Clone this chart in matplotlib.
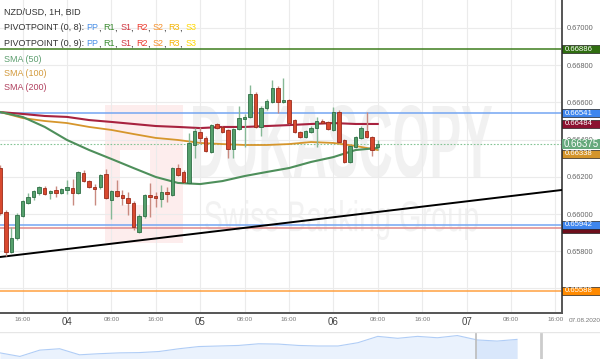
import numpy as np
import pandas as pd
import matplotlib
matplotlib.use("Agg")
import matplotlib.pyplot as plt
import matplotlib.dates as mdates
from matplotlib.patches import Rectangle, PathPatch
from matplotlib.textpath import TextPath
from matplotlib.font_manager import FontProperties
from matplotlib.transforms import Affine2D, blended_transform_factory

# --- data (NZD/USD, 1H, BID) ---
first_bar = "2020-08-03 12:00"
opens = [0.66247, 0.66011, 0.65796, 0.65871, 0.65989, 0.66059, 0.66091, 0.66113, 0.66140, 0.66113,
         0.66129, 0.66113, 0.66129, 0.66140, 0.66113, 0.66220, 0.66177, 0.66145, 0.66145, 0.66215,
         0.66075, 0.66124, 0.66102, 0.66086, 0.66059, 0.65903, 0.65989, 0.66102, 0.66097, 0.66081,
         0.66118, 0.66102, 0.66247, 0.66226, 0.66167, 0.66371, 0.66441, 0.66409, 0.66333, 0.66484,
         0.66468, 0.66452, 0.66350, 0.66457, 0.66511, 0.66522, 0.66645, 0.66468, 0.66570, 0.66602,
         0.66677, 0.66602, 0.66613, 0.66505, 0.66441, 0.66414, 0.66441, 0.66462, 0.66500, 0.66495,
         0.66452, 0.66548, 0.66398, 0.66280, 0.66360, 0.66409, 0.66446, 0.66414, 0.66360]
highs = [0.66263, 0.66022, 0.65930, 0.66005, 0.66075, 0.66113, 0.66129, 0.66151, 0.66151, 0.66129,
         0.66151, 0.66140, 0.66183, 0.66188, 0.66231, 0.66237, 0.66183, 0.66161, 0.66215, 0.66242,
         0.66129, 0.66183, 0.66129, 0.66118, 0.66070, 0.66000, 0.66108, 0.66167, 0.66118, 0.66156,
         0.66145, 0.66253, 0.66269, 0.66237, 0.66436, 0.66462, 0.66468, 0.66419, 0.66484, 0.66489,
         0.66473, 0.66457, 0.66462, 0.66581, 0.66538, 0.66694, 0.66656, 0.66581, 0.66618, 0.66720,
         0.66688, 0.66731, 0.66618, 0.66511, 0.66446, 0.66452, 0.66473, 0.66522, 0.66511, 0.66500,
         0.66575, 0.66559, 0.66403, 0.66371, 0.66419, 0.66473, 0.66548, 0.66419, 0.66398]
lows = [0.65995, 0.65774, 0.65790, 0.65860, 0.65984, 0.66054, 0.66075, 0.66102, 0.66102, 0.66081,
        0.66091, 0.66108, 0.66108, 0.66048, 0.66108, 0.66172, 0.66140, 0.66048, 0.66134, 0.66081,
        0.65973, 0.66091, 0.66048, 0.65995, 0.65914, 0.65898, 0.65979, 0.65984, 0.66038, 0.66038,
        0.66064, 0.66097, 0.66204, 0.66167, 0.66161, 0.66301, 0.66382, 0.66333, 0.66328, 0.66457,
        0.66436, 0.66301, 0.66301, 0.66452, 0.66360, 0.66516, 0.66462, 0.66419, 0.66559, 0.66597,
        0.66543, 0.66597, 0.66484, 0.66436, 0.66409, 0.66409, 0.66436, 0.66360, 0.66484, 0.66452,
        0.66446, 0.66382, 0.66274, 0.66274, 0.66355, 0.66403, 0.66409, 0.66312, 0.66344]
closes = [0.66005, 0.65796, 0.65871, 0.65995, 0.66070, 0.66091, 0.66124, 0.66145, 0.66108, 0.66124,
          0.66113, 0.66134, 0.66145, 0.66113, 0.66226, 0.66177, 0.66145, 0.66134, 0.66210, 0.66086,
          0.66124, 0.66097, 0.66086, 0.66059, 0.65930, 0.65989, 0.66102, 0.66091, 0.66086, 0.66118,
          0.66108, 0.66247, 0.66210, 0.66172, 0.66382, 0.66446, 0.66409, 0.66339, 0.66478, 0.66462,
          0.66441, 0.66350, 0.66457, 0.66516, 0.66522, 0.66645, 0.66468, 0.66570, 0.66608, 0.66677,
          0.66602, 0.66613, 0.66489, 0.66441, 0.66414, 0.66446, 0.66462, 0.66500, 0.66489, 0.66457,
          0.66548, 0.66387, 0.66280, 0.66366, 0.66414, 0.66462, 0.66414, 0.66344, 0.66375]

# moving averages, sampled every 4 hours from the first bar
sma50 = [0.66548, 0.66522, 0.66468, 0.66398, 0.66344, 0.66296, 0.66247, 0.66199, 0.66167,
         0.66161, 0.66177, 0.66204, 0.66226, 0.66247, 0.66280, 0.66306, 0.66344, 0.66355]
sma100 = [0.66548, 0.66516, 0.66500, 0.66489, 0.66468, 0.66452, 0.66430, 0.66409, 0.66398,
          0.66382, 0.66376, 0.66371, 0.66371, 0.66376, 0.66387, 0.66382, 0.66366, 0.66344]
sma200 = [0.66548, 0.66538, 0.66527, 0.66522, 0.66505, 0.66495, 0.66484, 0.66473, 0.66468,
          0.66462, 0.66468, 0.66468, 0.66473, 0.66478, 0.66484, 0.66489, 0.66484, 0.66484]

# pivot levels
level_prices = [0.66886, 0.66541, 0.65942, 0.65925, 0.65588]
level_colors = ["#3d7d1c", "#74a6f2", "#74a6f2", "#e08a8a", "#ffa040"]

# trend line anchors
trend_times = ["2020-08-03 12:00", "2020-08-07 16:00"]
trend_prices = [0.65769, 0.66125]

last_price = 0.66375

# price tags on the right axis: (text, price, colour); empty text = label hidden behind another
tags = [("0.66886", 0.66886, "#2f6d10"),
        ("0.66484", 0.66484, "#8c1230"),
        ("0.66541", 0.66541, "#3f86ee"),
        ("0.66338", 0.66325, "#d4952c"),
        ("", 0.65922, "#6e0f1c"),
        ("0.65942", 0.65942, "#3f86ee"),
        ("0.65588", 0.65588, "#ff8a00")]

price_ticks = [0.656, 0.658, 0.660, 0.662, 0.664, 0.666, 0.668, 0.670]
price_labels = ["", "0.65800", "0.66000", "0.66200", "0.66400", "0.66600", "0.66800", "0.67000"]
time_ticks = pd.date_range("2020-08-03 16:00", "2020-08-07 16:00", freq="8h")
time_labels = ["16:00", "04", "08:00", "16:00", "05", "08:00", "16:00", "06",
               "08:00", "16:00", "07", "08:00", "16:00"]

# navigator (long history, relative level)
nav_values = [25, 12, 35, 40, 18, 22, 25, 26, 30, 40, 48, 50, 52, 58, 57, 52, 50, 50,
              62, 85, 78, 85, 80, 88, 72, 68, 74]

# --- figure ---
plt.rcParams["font.family"] = ["Liberation Sans", "DejaVu Sans"]
W, H = 600, 359
fig = plt.figure(figsize=(W / 100, H / 100), dpi=100, facecolor="white")

PLOT_R, PLOT_B = 562, 313
ax = fig.add_axes([0, (H - PLOT_B) / H, PLOT_R / W, PLOT_B / H])
ax.patch.set_alpha(0)

px = 0.00005376
y_top = 0.671505
y_bot = y_top - PLOT_B * px
ax.set_ylim(y_bot, y_top)
ax.set_xlim(mdates.date2num(pd.Timestamp("2020-08-03 11:56")),
            mdates.date2num(pd.Timestamp("2020-08-07 17:12")))


# watermark behind everything
def fit_text(s, box, color, weight="normal"):
    tp = TextPath((0, 0), s, size=100, prop=FontProperties(family="Liberation Sans", weight=weight))
    ext = tp.get_extents()
    bx0, by0, bx1, by1 = box
    tr = (Affine2D().translate(-ext.x0, -ext.y0)
          .scale((bx1 - bx0) / ext.width, (by1 - by0) / ext.height)
          .translate(bx0, H - by1)
          .scale(1 / W, 1 / H) + fig.transFigure)
    fig.add_artist(PathPatch(tp, transform=tr, fc=color, ec="none", zorder=-2))


fig.add_artist(Rectangle((105 / W, 1 - 243 / H), 78 / W, 138 / H, transform=fig.transFigure,
                         fc="#fdeded", ec="none", zorder=-3))
fig.add_artist(Rectangle((120 / W, 1 - 205 / H), 30 / W, 55 / H, transform=fig.transFigure,
                         fc="white", ec="none", zorder=-3))
fit_text("DUKASCOPY", (193, 105, 492, 178), "#f1f1f1", weight="bold")
fit_text("Swiss Banking Group", (205, 200, 478, 240), "#f2f2f2")

# grid
ax.set_yticks(price_ticks)
ax.set_yticklabels(price_labels)
ax.set_xticks(mdates.date2num(time_ticks))
ax.grid(True, color="#ebebeb", lw=0.8, zorder=0)
ax.set_axisbelow(True)

for side in ["top", "left"]:
    ax.spines[side].set_visible(False)
for side in ["right", "bottom"]:
    ax.spines[side].set_color("#555555")
    ax.spines[side].set_linewidth(1.4)

ax.yaxis.tick_right()
ax.tick_params(axis="y", length=0, pad=3.5, labelsize=5.3, labelcolor="#666666")
ax.set_xticklabels(time_labels)
ax.tick_params(axis="x", length=0, pad=3, labelsize=4.6, labelcolor="#777777")
for lab in ax.get_xticklabels():
    if len(lab.get_text()) == 2:
        lab.set_fontsize(7)
        lab.set_color("#444444")

# pivot levels, trend line, current price
for p, c in zip(level_prices, level_colors):
    ax.axhline(p, color=c, lw=1.1, zorder=2)
ax.axline((mdates.date2num(pd.Timestamp(trend_times[0])), trend_prices[0]),
          (mdates.date2num(pd.Timestamp(trend_times[1])), trend_prices[1]),
          color="black", lw=1.4, zorder=3)
ax.axhline(last_price, color="#86c596", lw=0.8, ls=(0, (1.5, 1.5)), zorder=2)

# moving averages
sma_t = mdates.date2num(pd.date_range(first_bar, periods=len(sma50), freq="4h"))
ax.plot(sma_t, sma200, color="#a8223f", lw=1.5, zorder=3)
ax.plot(sma_t, sma100, color="#d6962c", lw=1.3, zorder=3)
ax.plot(sma_t, sma50, color="#4e8f5b", lw=1.5, zorder=3)

# candles
t = mdates.date2num(pd.date_range(first_bar, periods=len(opens), freq="h"))
o, h, l, c = map(np.array, (opens, highs, lows, closes))
up = c >= o
w = 0.62 / 24
for i in range(len(t)):
    lo = min(l[i], o[i], c[i])
    hi = max(h[i], o[i], c[i])
    ax.vlines(t[i], lo, hi, color="#86b896" if up[i] else "#c98a80", lw=1.0, zorder=4)
    bottom = min(o[i], c[i])
    height = max(abs(c[i] - o[i]), 1.2 * px)
    ax.bar(t[i], height, w, bottom, color="#55a06c" if up[i] else "#d8492f",
           edgecolor="#2f6e45" if up[i] else "#9b2c1c", lw=0.6, zorder=5)

# price tags
tr_tag = blended_transform_factory(ax.transAxes, ax.transData)
tag_w = (W - PLOT_R) / PLOT_R
for txt, p, col in tags:
    hgt = 8 * px
    ax.add_patch(Rectangle((1.0, p - hgt / 2), tag_w, hgt, transform=tr_tag, clip_on=False,
                           fc=col, ec="#222222", lw=0.5, zorder=6))
    if txt:
        ax.text(1.0 + 3 / PLOT_R, p, txt, transform=tr_tag, ha="left", va="center", fontsize=5.6,
                color="white", zorder=7, clip_on=False)
hgt = 10 * px
ax.add_patch(Rectangle((1.0, last_price - hgt / 2), tag_w, hgt, transform=tr_tag, clip_on=False,
                       fc="#66a97c", ec="none", zorder=8))
ax.text(1.0 + 2 / PLOT_R, last_price, f"{last_price:.5f}", transform=tr_tag, ha="left",
        va="center", fontsize=7, color="white", zorder=9, clip_on=False)

fig.text(585 / W, 1 - 321 / H, "07.08.2020", ha="center", va="center", fontsize=4.6,
         color="#777777")

# legend block top-left
def colored_line(y, parts, size=6.5):
    txt = fig.text(4 / W, 1 - y / H, parts[0][0], color=parts[0][1], fontsize=size,
                   ha="left", va="center")
    for s, col in parts[1:]:
        txt = ax.annotate(s, xy=(1, 0.5), xycoords=txt, color=col, fontsize=size,
                          ha="left", va="center", annotation_clip=False)


dark = "#333333"
pivot_parts = [("PP", "#4a8fe6"), ("R1", "#3a8a30"), ("S1", "#d0343f"), ("R2", "#ec3a2e"),
               ("S2", "#f5902a"), ("R3", "#f4b400"), ("S3", "#ffd700")]
colored_line(12, [("NZD/USD, 1H, BID", dark)])
for yy, head in [(28, "PIVOTPOINT (0, 8): "), (44, "PIVOTPOINT (0, 9): ")]:
    parts = [(head, dark)]
    for k, (s, col) in enumerate(pivot_parts):
        parts.append((s, col))
        if k < len(pivot_parts) - 1:
            parts.append((", ", dark))
    colored_line(yy, parts)
colored_line(60, [("SMA (50)", "#5c9e6e")])
colored_line(74, [("SMA (100)", "#d39a3c")])
colored_line(88, [("SMA (200)", "#b0405e")])

# navigator strip
nav = fig.add_axes([0, 0, 1, 27 / H])
nav.axis("off")
nav.set_xlim(0, W)
nav.set_ylim(2.7, 100.9)
nx = np.linspace(0, 517, len(nav_values))
nv = np.array(nav_values, dtype=float)
nav.fill_between(nx, 0, nv, color="#eaf2fd", lw=0)
sel = np.linspace(476, 517, 20)
nav.fill_between(sel, 0, np.interp(sel, nx, nv), color="#d9e7fb", lw=0)
nav.plot(nx, nv, color="#b0cdf6", lw=0.8)
nav.axvline(476, color="#bbbbbb", lw=1.2)
nav.axvline(541, color="#cccccc", lw=2)
nav.axhline(100.9, color="#e6e6e6", lw=1)

fig.savefig("out.png", dpi=100, facecolor="white")
